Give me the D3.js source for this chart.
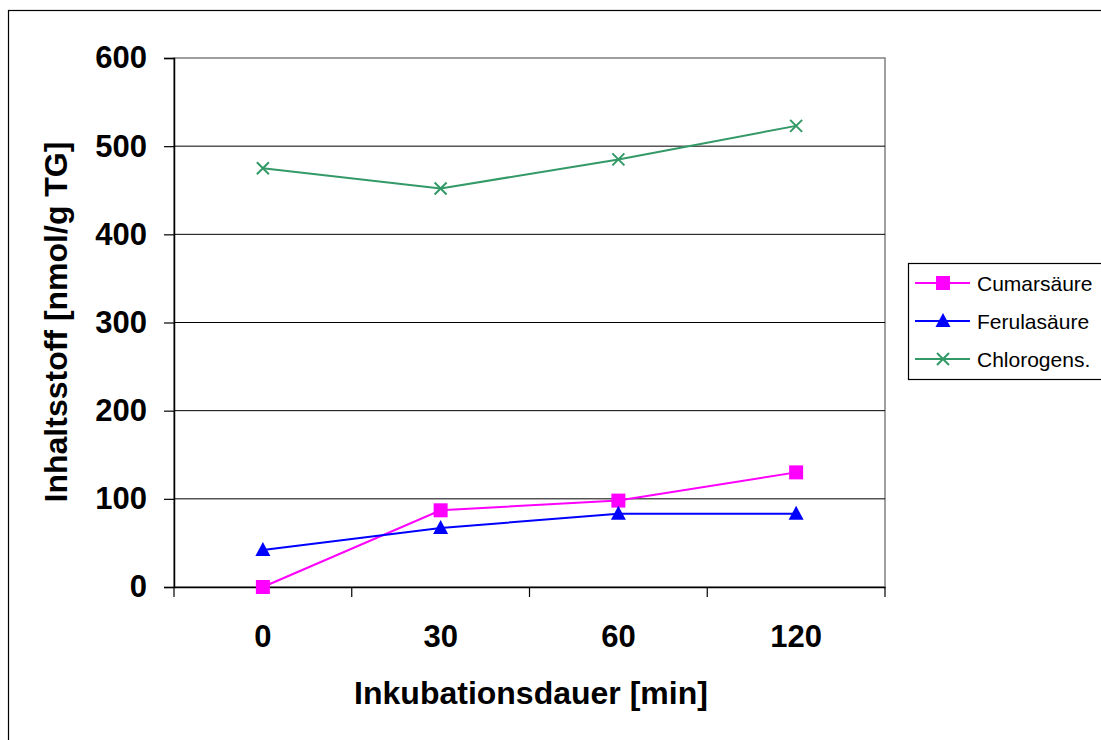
<!DOCTYPE html>
<html>
<head>
<meta charset="utf-8">
<script src="https://cdn.jsdelivr.net/npm/d3@7"></script>
<style>
  body { margin: 0; background: #fff; }
  svg { font-family: "Liberation Sans", Arial, sans-serif; }
</style>
</head>
<body>
<svg width="1101" height="740"></svg>
<script>
// Inkubationsdauer (min)
const categories = ["0", "30", "60", "120"];
const yTicks = [0, 100, 200, 300, 400, 500, 600];

const cumarsaeure = [0, 87, 98, 130];
const ferulasaeure = [42, 67, 83, 83];
const chlorogens = [475, 452, 485, 523];

const seriesNames = ["Cumarsäure", "Ferulasäure", "Chlorogens."];
const seriesColors = ["#ff00ff", "#0000ff", "#339966"];
const seriesSymbols = ["square", "triangle", "cross"];

const series = [cumarsaeure, ferulasaeure, chlorogens].map((vals, i) => ({
  name: seriesNames[i],
  color: seriesColors[i],
  symbol: seriesSymbols[i],
  values: vals
}));

const svg = d3.select("svg");
const plot = { left: 174, top: 58, right: 885, bottom: 587 };

// outer frame
svg.append("rect")
  .attr("x", 8.5).attr("y", 10.5)
  .attr("width", 1110).attr("height", 760)
  .attr("fill", "none").attr("stroke", "#000").attr("stroke-width", 1.2);

const xScale = d3.scaleBand().domain(categories).range([plot.left, plot.right]);
const yScale = d3.scaleLinear().domain([0, 600]).range([plot.bottom, plot.top]);

// plot area border (grey)
svg.append("rect")
  .attr("x", plot.left).attr("y", plot.top)
  .attr("width", plot.right - plot.left).attr("height", plot.bottom - plot.top)
  .attr("fill", "none").attr("stroke", "#808080").attr("stroke-width", 1.5);

// gridlines
svg.append("g")
  .selectAll("line")
  .data(yTicks.filter(t => t > 0 && t < 600))
  .enter()
  .append("line")
  .attr("x1", plot.left).attr("x2", plot.right)
  .attr("y1", d => yScale(d)).attr("y2", d => yScale(d))
  .attr("stroke", "#000").attr("stroke-width", 1);

// y axis
const yAxis = d3.axisLeft(yScale).tickValues(yTicks).tickSize(10).tickPadding(17);
svg.append("g")
  .attr("transform", `translate(${plot.left},0)`)
  .call(g => {
    g.call(yAxis);
    g.select(".domain").attr("stroke", "#000").attr("stroke-width", 1.5);
    g.selectAll(".tick line").attr("stroke", "#000").attr("stroke-width", 1.2);
    g.selectAll(".tick text").attr("font-size", 31).attr("font-weight", "bold")
      .attr("font-family", "Liberation Sans, Arial, sans-serif").attr("fill", "#000");
  });

// x axis
const xAxis = d3.axisBottom(xScale).tickSize(0).tickPadding(38);
svg.append("g")
  .attr("transform", `translate(0,${plot.bottom})`)
  .call(g => {
    g.call(xAxis);
    g.select(".domain").attr("stroke", "#000").attr("stroke-width", 1.5);
    g.selectAll(".tick text").attr("font-size", 31).attr("font-weight", "bold")
      .attr("font-family", "Liberation Sans, Arial, sans-serif").attr("fill", "#000");
  });

// x boundary ticks between categories
const boundaries = categories.map(c => xScale(c)).concat([xScale.range()[1]]);
svg.append("g")
  .selectAll("line")
  .data(boundaries)
  .enter()
  .append("line")
  .attr("x1", d => d).attr("x2", d => d)
  .attr("y1", plot.bottom).attr("y2", plot.bottom + 10)
  .attr("stroke", "#000").attr("stroke-width", 1.2);

// axis titles
svg.append("text")
  .attr("x", 531).attr("y", 704)
  .attr("text-anchor", "middle")
  .attr("font-size", 32).attr("font-weight", "bold")
  .text("Inkubationsdauer [min]");

svg.append("text")
  .attr("transform", "translate(67,322) rotate(-90)")
  .attr("text-anchor", "middle")
  .attr("font-size", 32).attr("font-weight", "bold")
  .text("Inhaltsstoff [nmol/g TG]");

const cx = d => xScale(d) + xScale.bandwidth() / 2;

function drawSymbol(g, type, color) {
  if (type === "square") {
    g.append("rect").attr("x", -7).attr("y", -7).attr("width", 14).attr("height", 14).attr("fill", color);
  } else if (type === "triangle") {
    g.append("path").attr("d", "M0,-8L7.5,6L-7.5,6Z").attr("fill", color);
  } else {
    g.append("path").attr("d", "M-6,-6L6,6M-6,6L6,-6").attr("stroke", color).attr("stroke-width", 2).attr("fill", "none");
  }
}

const line = d3.line().x((d, i) => cx(categories[i])).y(d => yScale(d));

series.forEach(s => {
  svg.append("path")
    .datum(s.values)
    .attr("d", line)
    .attr("fill", "none")
    .attr("stroke", s.color)
    .attr("stroke-width", 2);
  svg.append("g")
    .selectAll("g")
    .data(s.values)
    .enter()
    .append("g")
    .attr("transform", (d, i) => `translate(${cx(categories[i])},${yScale(d)})`)
    .each(function () { drawSymbol(d3.select(this), s.symbol, s.color); });
});

// legend
const legend = svg.append("g");
legend.append("rect")
  .attr("x", 908.5).attr("y", 263.5)
  .attr("width", 220).attr("height", 116)
  .attr("fill", "#fff").attr("stroke", "#000").attr("stroke-width", 1.2);

const legendItem = legend.selectAll("g.item")
  .data(series)
  .enter()
  .append("g")
  .attr("class", "item")
  .attr("transform", (d, i) => `translate(0,${283 + i * 38})`);

legendItem.append("line")
  .attr("x1", 915).attr("x2", 970)
  .attr("stroke", d => d.color).attr("stroke-width", 2);

legendItem.append("g")
  .attr("transform", "translate(943,0)")
  .each(function (d) { drawSymbol(d3.select(this), d.symbol, d.color); });

legendItem.append("text")
  .attr("x", 977).attr("y", 7.5)
  .attr("font-size", 21)
  .text(d => d.name);
</script>
</body>
</html>
